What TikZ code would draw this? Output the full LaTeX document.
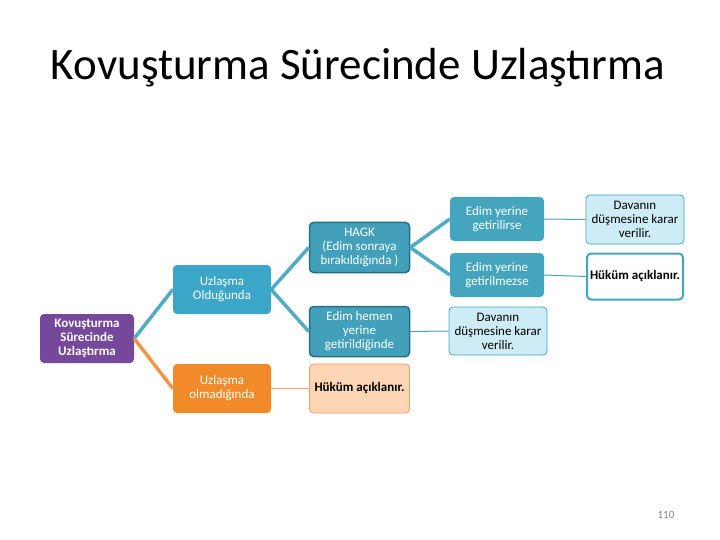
\documentclass[tikz,border=0pt]{standalone}
\usepackage{fontspec}
\setmainfont{Carlito}
\begin{document}
\begin{tikzpicture}[x=1pt,y=-1pt,
 bx/.style={rounded corners=4pt,align=center,inner sep=1pt,font=\fontsize{13}{14}\selectfont,text=white},
 teal1/.style={bx,fill={rgb,255:red,59;green,166;blue,200},draw=none},
 teal2/.style={bx,fill={rgb,255:red,66;green,160;blue,186},draw={rgb,255:red,40;green,110;blue,130},line width=1.5pt},
 teal3/.style={bx,fill={rgb,255:red,70;green,165;blue,190},draw=none},
 lt/.style={bx,fill={rgb,255:red,205;green,236;blue,246},draw={rgb,255:red,70;green,165;blue,190},line width=0.8pt,text=black},
 wt/.style={bx,fill=white,draw={rgb,255:red,70;green,165;blue,190},line width=2pt,text=black},
 org/.style={bx,fill={rgb,255:red,241;green,138;blue,40},draw=none},
 lorg/.style={bx,fill={rgb,255:red,252;green,213;blue,181},draw={rgb,255:red,240;green,160;blue,96},line width=0.8pt,text=black},
 tk/.style={line width=3.5pt,draw={rgb,255:red,80;green,170;blue,200}},
 tko/.style={line width=3.5pt,draw={rgb,255:red,241;green,150;blue,70}},
 tn/.style={line width=1pt,draw={rgb,255:red,70;green,165;blue,190}},
 tno/.style={line width=1pt,draw={rgb,255:red,240;green,160;blue,96}}]
\useasboundingbox (0,0) rectangle (720,540);
\node (title) at (358,68) {\fontsize{45}{50}\selectfont Kovuşturma Sürecinde Uzlaştırma};
\node[bx,fill={rgb,255:red,118;green,72;blue,155},minimum width=94pt,minimum height=49pt] (k) at (87,338.5) {\bfseries Kovuşturma\\\bfseries Sürecinde\\\bfseries Uzlaştırma};
\node[teal1,minimum width=98pt,minimum height=49pt] (uo) at (222,289.5) {Uzlaşma\\Olduğunda};
\node[org,minimum width=98pt,minimum height=49pt] (um) at (222,388.5) {Uzlaşma\\olmadığında};
\node[teal2,minimum width=100pt,minimum height=50pt] (h) at (359.5,247.5) {HAGK\\(Edim sonraya\\bırakıldığında )};
\node[teal2,minimum width=100pt,minimum height=50pt] (eh) at (359.5,331.5) {Edim hemen\\yerine\\getirildiğinde};
\node[lorg,minimum width=100pt,minimum height=49pt] (ha) at (359.5,388.5) {\bfseries Hüküm açıklanır.};
\node[teal3,minimum width=94pt,minimum height=44pt] (ey) at (497,219) {Edim yerine\\getirilirse};
\node[teal3,minimum width=94pt,minimum height=44pt] (en) at (497,275) {Edim yerine\\getirilmezse};
\node[lt,minimum width=98pt,minimum height=49pt] (d1) at (635,219.5) {Davanın\\düşmesine karar\\verilir.};
\node[wt,minimum width=96pt,minimum height=46pt] (h2) at (635,276.5) {\bfseries Hüküm açıklanır.};
\node[lt,minimum width=98pt,minimum height=48pt] (d2) at (498,331) {Davanın\\düşmesine karar\\verilir.};
\node[font=\fontsize{11}{12}\selectfont,text=gray] (pn) at (666,515) {110};
\draw[tk] (k.east) -- (uo.west);
\draw[tko] (k.east) -- (um.west);
\draw[tk] (uo.east) -- (h.west);
\draw[tk] (uo.east) -- (eh.west);
\draw[tno] (um.east) -- (ha.west);
\draw[tk] (h.east) -- (ey.west);
\draw[tk] (h.east) -- (en.west);
\draw[tn] (eh.east) -- (d2.west);
\draw[tn] (ey.east) -- (d1.west);
\draw[tn] (en.east) -- (h2.west);
\end{tikzpicture}
\end{document}
